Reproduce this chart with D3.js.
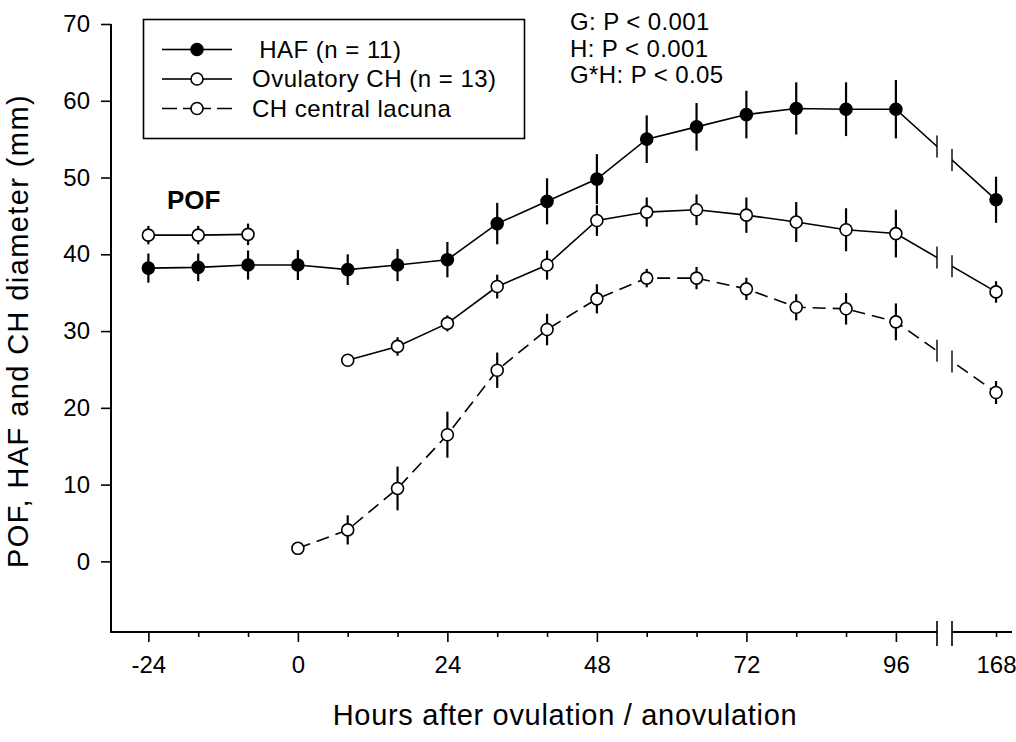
<!DOCTYPE html>
<html lang="en">
<head>
<meta charset="UTF-8">
<title>POF, HAF and CH diameter</title>
<script src="https://d3js.org/d3.v7.min.js"></script>
<style>
  body { margin: 0; background: #fff; }
  svg text { font-family: "Liberation Sans", Arial, Helvetica, sans-serif; fill: #000; }
</style>
</head>
<body>
<div id="chart"></div>
<script>
  // data (mean and SEM, mm)
  const pof_hours = [-24, -16, -8];
  const pof_mean = [42.5, 42.5, 42.6];
  const pof_se = [1.2, 1.2, 1.4];

  const haf_hours = [-24, -16, -8, 0, 8, 16, 24, 32, 40, 48, 56, 64, 72, 80, 88, 96, 168];
  const haf_mean = [38.2, 38.3, 38.6, 38.6, 38.0, 38.6, 39.3, 44.0, 46.9, 49.8, 55.0, 56.6, 58.2, 59.0, 58.9, 58.9, 47.1];
  const haf_se = [1.9, 1.8, 1.9, 1.95, 2.0, 2.1, 2.3, 2.7, 3.0, 3.25, 3.1, 3.1, 3.1, 3.4, 3.5, 3.8, 3.0];

  const ch_hours = [8, 16, 24, 32, 40, 48, 56, 64, 72, 80, 88, 96, 168];
  const ch_mean = [26.2, 28.0, 31.0, 35.8, 38.6, 44.4, 45.5, 45.8, 45.1, 44.2, 43.2, 42.7, 35.1];
  const ch_se = [0.8, 1.2, 1.05, 1.55, 1.9, 2.0, 1.9, 2.0, 2.3, 2.6, 2.8, 3.1, 1.4];

  const lac_hours = [0, 8, 16, 24, 32, 40, 48, 56, 64, 72, 80, 88, 96, 168];
  const lac_mean = [1.7, 4.1, 9.5, 16.5, 24.9, 30.2, 34.2, 36.9, 36.9, 35.5, 33.1, 32.9, 31.2, 22.0];
  const lac_se = [0.3, 1.9, 2.85, 3.0, 2.3, 2.05, 1.9, 1.2, 1.45, 1.45, 1.7, 2.05, 2.4, 1.5];

  const x_major = [-24, 0, 24, 48, 72, 96];
  const x_minor = [-16, -8, 8, 16, 32, 40, 56, 64, 80, 88];
  const x_after_break = [168];
  const y_ticks = [0, 10, 20, 30, 40, 50, 60, 70];

  const legend_labels = [" HAF (n = 11)", "Ovulatory CH (n = 13)", "CH central lacuna"];
  const stat_lines = ["G: P < 0.001", "H: P < 0.001", "G*H: P < 0.05"];

  const width = 1016, height = 742;
  const axis_left = 111, axis_bottom = 632, axis_top = 24, axis_right = 1012;
  const break_l = 937, break_r = 952;

  const svg = d3.select("#chart").append("svg")
    .attr("width", width)
    .attr("height", height);

  // broken x scale: -30..102.6 h, gap, 161.1..170.5 h
  const x = d3.scaleLinear()
    .domain([-30, 102.6, 161.1, 170.5])
    .range([axis_left, break_l, break_r, axis_right]);
  const y = d3.scaleLinear()
    .domain([-9.2, 70])
    .range([axis_bottom, axis_top]);

  const fmt = d => String(d);

  // y axis
  const gy = svg.append("g")
    .attr("transform", `translate(${axis_left},0)`)
    .call(d3.axisLeft(y).tickValues(y_ticks).tickSize(10).tickPadding(11).tickFormat(fmt));
  gy.select(".domain").remove();
  gy.selectAll("line").attr("stroke-width", 1.6);
  gy.selectAll("text").attr("font-size", 24);
  svg.append("line")
    .attr("x1", axis_left).attr("x2", axis_left)
    .attr("y1", axis_top).attr("y2", axis_bottom + 1)
    .attr("stroke", "#000").attr("stroke-width", 2);

  // x axis (majors, minors, post-break tick)
  const gx = svg.append("g")
    .attr("transform", `translate(0,${axis_bottom})`)
    .call(d3.axisBottom(x).tickValues(x_major).tickSize(10).tickPadding(14).tickFormat(fmt));
  const gxm = svg.append("g")
    .attr("transform", `translate(0,${axis_bottom})`)
    .call(d3.axisBottom(x).tickValues(x_minor).tickSize(5).tickFormat(""));
  const gxb = svg.append("g")
    .attr("transform", `translate(0,${axis_bottom})`)
    .call(d3.axisBottom(x).tickValues(x_after_break).tickSize(5).tickPadding(19).tickFormat(fmt));
  [gx, gxm, gxb].forEach(g => {
    g.select(".domain").remove();
    g.selectAll("line").attr("stroke-width", 1.6);
    g.selectAll("text").attr("font-size", 24);
  });
  svg.append("line")
    .attr("x1", axis_left - 1).attr("x2", break_l)
    .attr("y1", axis_bottom).attr("y2", axis_bottom)
    .attr("stroke", "#000").attr("stroke-width", 2);
  svg.append("line")
    .attr("x1", break_r).attr("x2", axis_right)
    .attr("y1", axis_bottom).attr("y2", axis_bottom)
    .attr("stroke", "#000").attr("stroke-width", 2);
  [break_l, break_r].forEach(bx => {
    svg.append("line")
      .attr("x1", bx).attr("x2", bx)
      .attr("y1", axis_bottom - 11).attr("y2", axis_bottom + 14)
      .attr("stroke", "#000").attr("stroke-width", 1.6);
  });

  // axis titles
  svg.append("text")
    .attr("x", 565).attr("y", 725)
    .attr("text-anchor", "middle")
    .attr("font-size", 29)
    .attr("letter-spacing", 0.7)
    .text("Hours after ovulation / anovulation");
  svg.append("text")
    .attr("transform", "translate(28,331) rotate(-90)")
    .attr("text-anchor", "middle")
    .attr("font-size", 29)
    .attr("letter-spacing", 1.4)
    .text("POF, HAF and CH diameter (mm)");

  // clip for the break gap in the data lines
  const clip = svg.append("clipPath").attr("id", "gap");
  clip.append("rect").attr("x", 0).attr("y", 0).attr("width", break_l).attr("height", height);
  clip.append("rect").attr("x", break_r).attr("y", 0).attr("width", width - break_r).attr("height", height);

  const series = [
    { hours: pof_hours, mean: pof_mean, se: pof_se, fill: "#fff", dash: null },
    { hours: haf_hours, mean: haf_mean, se: haf_se, fill: "#000", dash: null },
    { hours: ch_hours, mean: ch_mean, se: ch_se, fill: "#fff", dash: null },
    { hours: lac_hours, mean: lac_mean, se: lac_se, fill: "#fff", dash: "13,7" }
  ];

  const line = d3.line().x(d => x(d.h)).y(d => y(d.m));

  series.forEach(s => {
    const pts = s.hours.map((h, i) => ({ h: h, m: s.mean[i], se: s.se[i] }));
    const g = svg.append("g");

    g.append("path")
      .datum(pts)
      .attr("d", line)
      .attr("fill", "none")
      .attr("stroke", "#000")
      .attr("stroke-width", 1.6)
      .attr("stroke-dasharray", s.dash)
      .attr("clip-path", "url(#gap)");

    // break marks where the line crosses the axis gap
    const i96 = s.hours.indexOf(96), i168 = s.hours.indexOf(168);
    if (i96 >= 0 && i168 >= 0) {
      const x0 = x(96), y0 = y(s.mean[i96]), x1 = x(168), y1 = y(s.mean[i168]);
      [break_l, break_r].forEach(bx => {
        const by = y0 + (y1 - y0) * (bx - x0) / (x1 - x0);
        g.append("line")
          .attr("x1", bx).attr("x2", bx)
          .attr("y1", by - 11).attr("y2", by + 11)
          .attr("stroke", "#000").attr("stroke-width", 1.4);
      });
    }

    g.selectAll("line.err")
      .data(pts)
      .enter()
      .append("line")
      .attr("class", "err")
      .attr("x1", d => x(d.h)).attr("x2", d => x(d.h))
      .attr("y1", d => y(d.m + d.se)).attr("y2", d => y(d.m - d.se))
      .attr("stroke", "#000").attr("stroke-width", 2.2);

    g.selectAll("circle")
      .data(pts)
      .enter()
      .append("circle")
      .attr("cx", d => x(d.h)).attr("cy", d => y(d.m))
      .attr("r", 6)
      .attr("fill", s.fill)
      .attr("stroke", "#000").attr("stroke-width", 1.6);
  });

  // POF label
  svg.append("text")
    .attr("x", 167).attr("y", 209)
    .attr("font-size", 26)
    .attr("font-weight", "bold")
    .text("POF");

  // statistics
  svg.selectAll("text.stat")
    .data(stat_lines)
    .enter()
    .append("text")
    .attr("class", "stat")
    .attr("x", 570)
    .attr("y", (d, i) => 30 + i * 26.6)
    .attr("font-size", 24)
    .attr("letter-spacing", 0.4)
    .text(d => d);

  // legend
  const legend = svg.append("g");
  legend.append("rect")
    .attr("x", 143.5).attr("y", 19.5)
    .attr("width", 381).attr("height", 119)
    .attr("fill", "#fff")
    .attr("stroke", "#000").attr("stroke-width", 1.6);
  const leg_fill = ["#000", "#fff", "#fff"];
  const leg_dash = [null, null, "15,6"];
  legend_labels.forEach((lab, i) => {
    const ry = 49.5 + i * 29.5;
    // two halves drawn outward from the symbol so dashes sit like the original
    [[191, 162], [203, 232]].forEach(([xa, xb]) => {
      legend.append("line")
        .attr("x1", xb).attr("x2", xa)
        .attr("y1", ry).attr("y2", ry)
        .attr("stroke", "#000").attr("stroke-width", 1.6)
        .attr("stroke-dasharray", leg_dash[i]);
    });
    legend.append("circle")
      .attr("cx", 197).attr("cy", ry).attr("r", 6)
      .attr("fill", leg_fill[i])
      .attr("stroke", "#000").attr("stroke-width", 1.6);
    legend.append("text")
      .attr("x", 252).attr("y", ry + 8)
      .attr("font-size", 24)
      .attr("letter-spacing", 0.5)
      .style("white-space", "pre")
      .text(lab);
  });
</script>
</body>
</html>
